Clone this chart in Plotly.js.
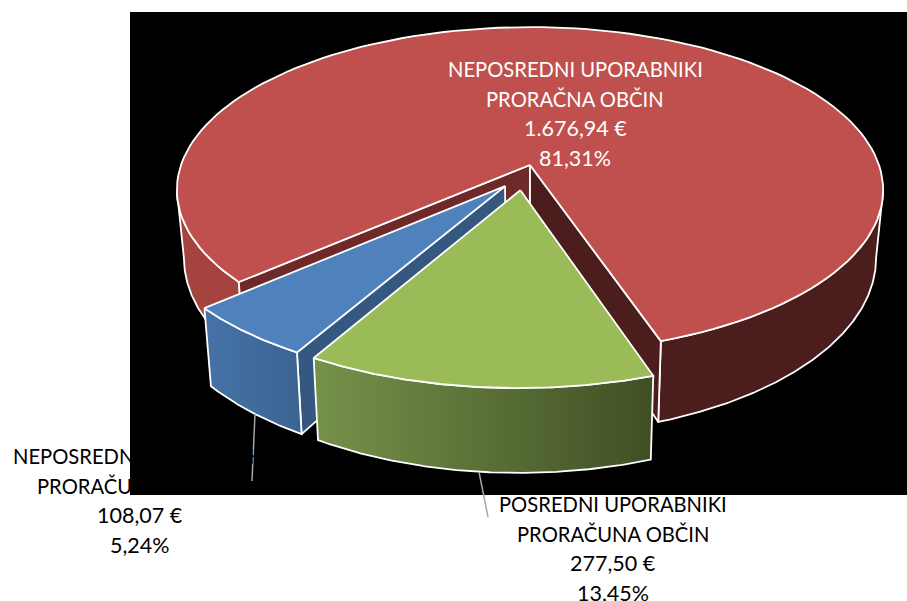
<!DOCTYPE html>
<html><head><meta charset="utf-8">
<script src="https://cdn.plot.ly/plotly-3.0.1.min.js"></script>
<style>html,body{margin:0;padding:0;background:#fff}</style></head>
<body><div id="chart" style="width:907px;height:601px"></div>
<script>
// Data
const categories = ["NEPOSREDNI UPORABNIKI PRORAČNA OBČIN", "NEPOSREDNI UPORABNIKI PRORAČUNA DRŽAVE", "POSREDNI UPORABNIKI PRORAČUNA OBČIN"];
const amounts = ["1.676,94 €", "108,07 €", "277,50 €"];
const percentValues = [81.31, 5.24, 13.45];
const percentLabels = ["81,31%", "5,24%", "13,45%"];

// Projection of the tilted pie
const cx = 530, cy = 165, f = 349, g = 159, k = -0.153;
const shrink = 0.98;
const startAngle = 18.7;
const silhouette = 81.2;
const total = percentValues.reduce((a, b) => a + b, 0);
const spans = percentValues.map(p => p / total * 360);
const rad = d => d * Math.PI / 180;
const proj = (u, v) => { const w = 1 + k * v; return [cx + f * u / w, cy + g * v / w]; };
const low = p => [cx + (p[0] - cx) * shrink, p[1] + 68 + (p[1] - 190) * 0.085];
const offsets = [[0, 0], [-0.07, 0.13], [-0.027, 0.155]];
function rim(a0, a1, off, n) {
  const out = [];
  for (let i = 0; i <= n; i++) {
    const a = rad(a0 + (a1 - a0) * i / n);
    out.push(proj(Math.sin(a) + off[0], Math.cos(a) + off[1]));
  }
  return out;
}
function poly(pts, fill, extra) {
  const closed = pts.concat([pts[0]]);
  return Object.assign({
    type: "scatter", mode: "lines", x: closed.map(p => p[0]), y: closed.map(p => p[1]),
    fill: "toself", fillcolor: fill, line: { color: "#ffffff", width: 1.8 },
    hoverinfo: "skip", showlegend: false
  }, extra || {});
}
const face = (a0, a1, off) => [proj(off[0], off[1])].concat(rim(a0, a1, off, 140));
const wall = (a0, a1, off) => { const r = rim(a0, a1, off, 140); return r.concat(r.slice().reverse().map(low)); };
const cut = (a, off) => { const c = proj(off[0], off[1]); const e = rim(a, a, off, 1)[0]; return [c, e, low(e), low(c)]; };
const grad = (a, b) => ({ fillgradient: { type: "horizontal", colorscale: [[0, a], [1, b]] } });

const a0 = startAngle, a1 = a0 + spans[0], a2 = a1 + spans[1], a3 = a2 + spans[2];
const traces = [
  poly(wall(a0, silhouette, offsets[0]), "#4B1E1D"),
  poly(wall(360 - silhouette, a1, offsets[0]), "#A5433F"),
  poly(cut(a1, offsets[0]), "#6E2A28"),
  poly(cut(a0, offsets[0]), "#4B1E1D"),
  poly(face(a0, a1, offsets[0]), "#C0504D"),
  poly(cut(a2, offsets[1]), "#34587F"),
  poly(wall(a1, a2, offsets[1]), "#4672A8", grad("#4672A8", "#3B6491")),
  poly(face(a1, a2, offsets[1]), "#4F81BD"),
  poly(wall(a2, a3, offsets[2]), "#76924A", grad("#76924A", "#3F4F24")),
  poly(face(a2, a3, offsets[2]), "#9BBB59"),
  { type: "scatter", mode: "lines", x: [255, 252], y: [414, 481], line: { color: "#A6A6A6", width: 1.5 }, hoverinfo: "skip", showlegend: false },
  { type: "scatter", mode: "lines", x: [479, 488], y: [472, 517], line: { color: "#A6A6A6", width: 1.5 }, hoverinfo: "skip", showlegend: false }
];

const labelLines = [
  { x: 575, y: 69, color: "#ffffff", lines: ["NEPOSREDNI UPORABNIKI", "PRORAČNA OBČIN", amounts[0], percentLabels[0]] },
  { x: 140, y: 456, color: "#000000", lines: ["NEPOSREDNI UPORABNIKI", "PRORAČUNA DRŽAVE", amounts[1], percentLabels[1]] },
  { x: 613, y: 504, color: "#000000", lines: ["POSREDNI UPORABNIKI", "PRORAČUNA OBČIN", amounts[2], percentLabels[2]] }
];
const annotations = [];
labelLines.forEach(l => l.lines.forEach((t, i) => annotations.push({
  x: l.x, y: l.y + i * 29.5, xref: "x", yref: "y", text: t, showarrow: false,
  xanchor: "center", yanchor: "middle",
  font: { family: "Lato, sans-serif", size: i < 2 ? 20.2 : 21.5, color: l.color }
})));

Plotly.newPlot("chart", traces, {
  width: 907, height: 601, margin: { l: 0, r: 0, t: 0, b: 0 },
  paper_bgcolor: "#ffffff", plot_bgcolor: "#ffffff",
  xaxis: { range: [0, 907], visible: false, fixedrange: true },
  yaxis: { range: [601, 0], visible: false, fixedrange: true },
  shapes: [{ type: "rect", xref: "x", yref: "y", x0: 130, x1: 907, y0: 12, y1: 495, fillcolor: "#000000", line: { width: 0 }, layer: "below" }],
  annotations: annotations, showlegend: false
}, { displayModeBar: false, staticPlot: true });
</script></body></html>
